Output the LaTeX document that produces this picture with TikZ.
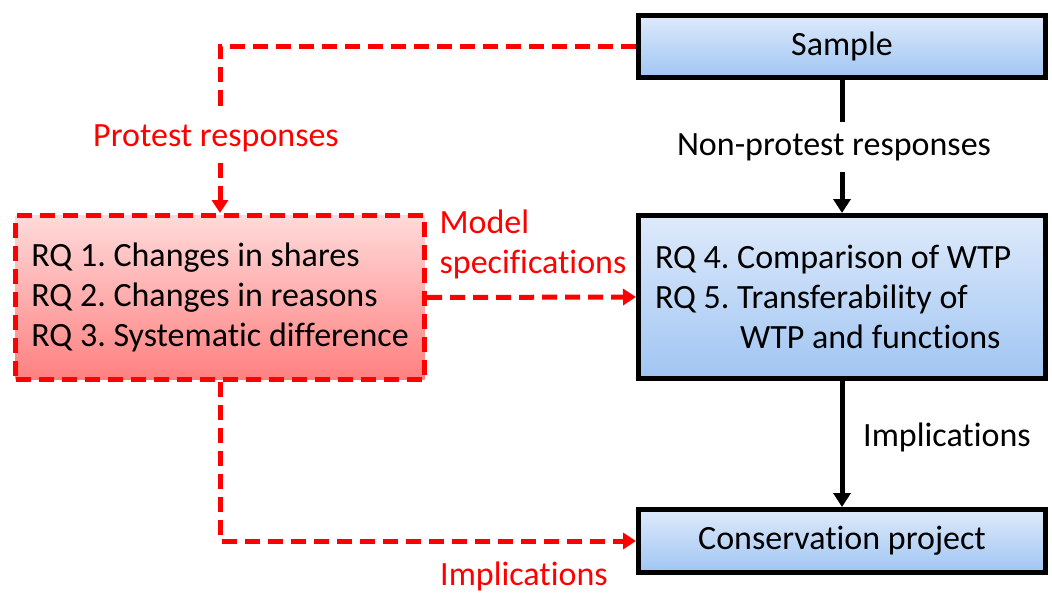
\documentclass[tikz,border=0pt]{standalone}
\usepackage{fontspec}
\setmainfont{Carlito}[Ligatures=NoCommon]
\usetikzlibrary{arrows.meta}
\definecolor{blueTop}{RGB}{222,234,251}
\definecolor{blueBot}{RGB}{160,197,242}
\definecolor{redTop}{RGB}{255,218,218}
\definecolor{redBot}{RGB}{255,128,128}
\frenchspacing

\begin{document}
\begin{tikzpicture}[x=1pt,y=-1pt,font=\fontsize{34}{40}\selectfont]
                        \tikzstyle{bluebox}=[draw=black, line width=5pt, top color=blueTop, bottom color=blueBot, minimum width=407pt]
                        \tikzstyle{rqbox}=[draw=red, line width=5pt, dash pattern=on 15pt off 8pt, top color=redTop, bottom color=redBot, minimum width=409pt, minimum height=164pt, align=left]
                        \tikzstyle{blackarrow}=[line width=5pt, -{Triangle[width=17pt,length=14pt]}]
                        \tikzstyle{reddash}=[red, line width=5pt, dash pattern=on 15pt off 8pt]
                        \tikzstyle{redarrow}=[reddash, -{Triangle[width=16pt,length=13pt]}]
                        \tikzstyle{gaplabel}=[inner xsep=0pt, inner ysep=11pt]
                        \useasboundingbox (0,0) rectangle (1052,594);
                        % boxes
                        \node[bluebox, minimum height=62pt] (sample) at (842,46.5) {Sample};
                        \node[bluebox, minimum height=163pt, text width=374pt, inner xsep=16.5pt, align=flush left] (wtp) at (842,297) {RQ 4. Comparison of WTP\\RQ 5. Transferability of\\\hspace*{85pt}WTP and functions};
                        \node[bluebox, minimum height=63pt] (project) at (842,541) {Conservation project};
                        \node[rqbox] (rq) at (220,297.5) {RQ 1. Changes in shares\\RQ 2. Changes in reasons\\RQ 3. Systematic difference};
                        % labels
                        \node[gaplabel] (nonprotest) at (834,147) {Non-protest responses};
                        \node[gaplabel, text=red] (protest) at (216,138) {Protest responses};
                        \node[align=left, text=red] (modelspec) at (533,244) {Model\\specifications};
                        \node[text=red] (implred) at (524,576) {Implications};
                        \node (implblack) at (947,437) {Implications};
                        \coordinate (pcorner) at (220,46.5);
                        \coordinate (icorner) at (220,541);
                        % black connectors
                        \draw[line width=5pt] (sample.south) -- (sample.south |- nonprotest.north);
                        \draw[blackarrow] (sample.south |- nonprotest.south) -- (wtp.north);
                        \draw[blackarrow] (wtp.south) -- (project.north);
                        % red connectors
                        \draw[reddash] (sample.west) -- (pcorner) -- (pcorner |- protest.north);
                        \draw[redarrow] (pcorner |- protest.south) -- (rq.north);
                        \draw[redarrow] (rq.east) -- (wtp.west);
                        \draw[redarrow] (rq.south) -- (icorner) -- (project.west);
                    \end{tikzpicture}
\end{document}
